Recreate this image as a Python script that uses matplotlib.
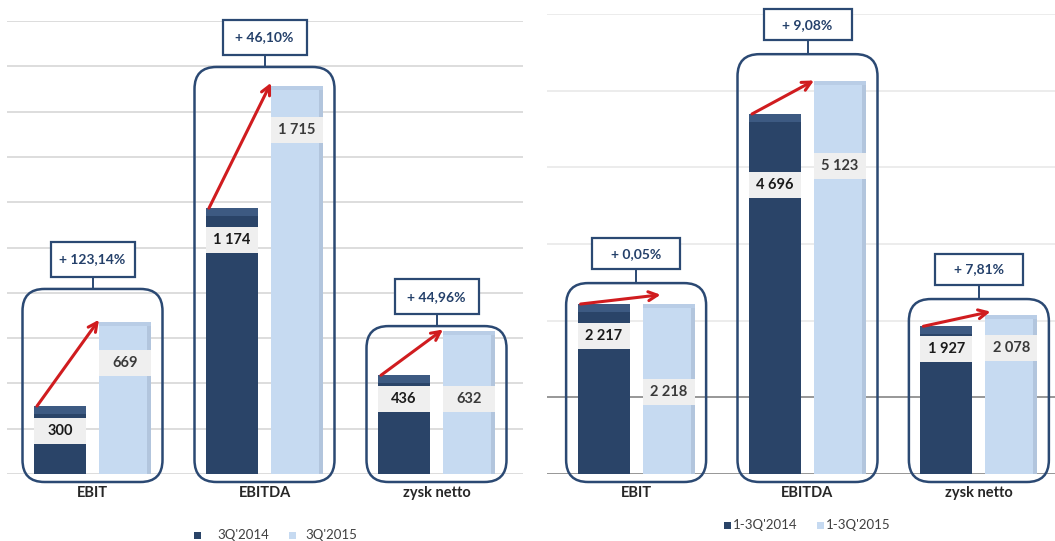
import numpy as np
import matplotlib.pyplot as plt
from matplotlib.patches import FancyBboxPatch, Rectangle

plt.rcParams['font.family'] = ['Lato', 'DejaVu Sans']

categories = ['EBIT', 'EBITDA', 'zysk netto']

# 3Q figures (left chart)
q3_2014 = [300, 1174, 436]
q3_2015 = [669, 1715, 632]
q3_change = ['+ 123,14%', '+ 46,10%', '+ 44,96%']

# 1-3Q figures (right chart)
ytd_2014 = [2217, 4696, 1927]
ytd_2015 = [2218, 5123, 2078]
ytd_change = ['+ 0,05%', '+ 9,08%', '+ 7,81%']

W, H = 1055, 541
DARK = '#2a4468'
DARK_TOP = '#3d5a82'
LIGHT = '#c6daf1'
LIGHT_EDGE = '#b2c5dd'
NAVY = '#2b4973'
RED = '#d01c1f'

fig = plt.figure(figsize=(W / 100, H / 100), dpi=100)


def px_rect(x, top, w, h):
    return [x / W, 1 - (top + h) / H, w / W, h / H]


def draw_panel(ax, ymax, xlim, old, new, changes, lab_old, lab_new, box_top,
               arrow_dx, arrow_dy, pct_w, pct_h, pct_gap, grid_cols):
    ax.set_xlim(*xlim)
    ax.set_ylim(0, ymax)
    ax.axis('off')
    pos = ax.get_position()
    px_x = pos.width * W / (xlim[1] - xlim[0])
    px_y = pos.height * H / ymax
    uy = 1 / px_y
    ux = 1 / px_x

    for k, c in enumerate(grid_cols):
        ax.axhline(k * ymax / (len(grid_cols) - 1), color=c, lw=1.3, zorder=0)

    x = np.arange(len(categories))
    bw = 52 * ux
    off = 32.5 * ux
    old = np.array(old)
    new = np.array(new)

    ax.bar(x - off, old, width=bw, color=DARK, zorder=3)
    ax.bar(x - off, 8 * uy, bottom=old - 8 * uy, width=bw, color=DARK_TOP, zorder=3)
    ax.bar(x + off, new, width=bw, color=LIGHT, zorder=3)
    ax.bar(x + off + bw / 2 - 2 * ux, new, width=4 * ux, color=LIGHT_EDGE, zorder=3)
    ax.bar(x + off, 4 * uy, bottom=new - 4 * uy, width=bw, color='#b9cde6', zorder=3)

    # value labels on grey bands
    lh = 26 * uy
    for i in range(len(x)):
        for xc, yc, v, tc in [(x[i] - off, lab_old[i], old[i], '#1a1a1a'),
                              (x[i] + off, lab_new[i], new[i], '#3a3a3a')]:
            ax.add_patch(Rectangle((xc - bw / 2, yc - lh / 2), bw, lh,
                                   fc='#efefef', ec='none', zorder=4))
            txt = f'{v:,}'.replace(',', ' ')
            ax.text(xc, yc, txt, ha='center', va='center', fontsize=10.5,
                    fontweight='bold', color=tc, zorder=5)

        # growth arrow
        ax.annotate('', xy=(x[i] + off - bw / 2 + arrow_dx[i], new[i] + arrow_dy[i]),
                    xytext=(x[i] - off - bw / 2 + 3 * ux, old[i]),
                    arrowprops=dict(arrowstyle='->', color=RED, lw=2.2,
                                    shrinkA=0, shrinkB=0, mutation_scale=16),
                    zorder=6, annotation_clip=False)

        # rounded frame around the pair
        bottom = -8 * uy
        half = 70 * ux
        r = 22 * ux
        ax.add_patch(FancyBboxPatch((x[i] - half, bottom), 2 * half, box_top[i] - bottom,
                                    boxstyle=f'round,pad=0,rounding_size={r}',
                                    mutation_aspect=px_x / px_y, fc='none', ec=NAVY,
                                    lw=1.8, zorder=6, clip_on=False))

        # change box with connector
        pb = box_top[i] + pct_gap * uy
        ax.plot([x[i], x[i]], [box_top[i], pb], color=NAVY, lw=1.4, zorder=6, clip_on=False)
        ax.add_patch(Rectangle((x[i] - pct_w / 2 * ux, pb), pct_w * ux, pct_h * uy,
                               fc='white', ec=NAVY, lw=1.6, zorder=6, clip_on=False))
        ax.text(x[i], pb + pct_h * uy / 2, changes[i], ha='center', va='center',
                fontsize=10, fontweight='bold', color='#24406a', zorder=7)

        ax.text(x[i], -19 * uy, categories[i], ha='center', va='center',
                fontsize=10.5, fontweight='bold', color='#262626')


ax1 = fig.add_axes(px_rect(6.5, 21, 516, 453))
draw_panel(ax1, 2000, (-0.5, 2.5), q3_2014, q3_2015, q3_change,
           lab_old=[192, 1035, 333], lab_new=[490, 1519, 331],
           box_top=[817, 1797, 653], arrow_dx=[0, 0, 0], arrow_dy=[12, 12, 6],
           pct_w=84, pct_h=35, pct_gap=12, grid_cols=['#dadada'] * 11)

ax2 = fig.add_axes(px_rect(547, 14, 521, 460))
draw_panel(ax2, 6000, (-0.52, 2.52), ytd_2014, ytd_2015, ytd_change,
           lab_old=[1800, 3768, 1630], lab_new=[1076, 4022, 1643],
           box_top=[2490, 5476, 2282], arrow_dx=[0.105, 0, 0.03], arrow_dy=[120, 10, 40],
           pct_w=88, pct_h=31, pct_gap=14,
           grid_cols=['#8f8f8f', '#8f8f8f', '#ebebeb', '#ebebeb', '#ebebeb', '#ebebeb', '#ebebeb'])

# legends
legends = [(535, ['3Q\'2014', '3Q\'2015'], [197, 292], [217, 305]),
           (525, ['1-3Q\'2014', '1-3Q\'2015'], [727, 820], [733, 826])]
for yc, names, mx, tx in legends:
    for name, m, t, col in zip(names, mx, tx, [DARK, LIGHT]):
        fig.add_artist(Rectangle((m / W - 3.5 / W, 1 - (yc + 3.5) / H), 7 / W, 7 / H,
                                 transform=fig.transFigure, fc=col, ec='none'))
        fig.text(t / W, 1 - yc / H, name, ha='left', va='center', fontsize=9.5,
                 color='#404040')

fig.savefig('out.png', dpi=100)
